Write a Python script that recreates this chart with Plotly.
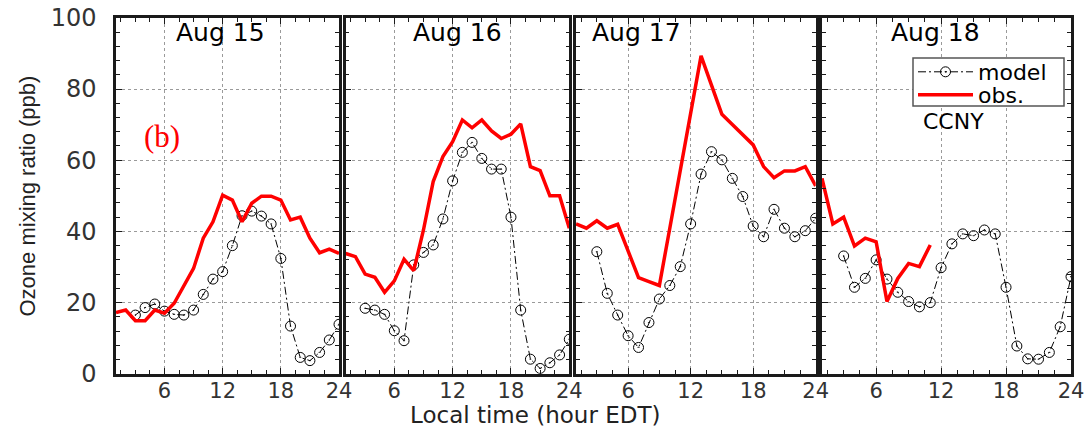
import plotly.graph_objects as go

hours = list(range(1, 25))
days = ["Aug 15", "Aug 16", "Aug 17", "Aug 18"]

obs_aug15 = [17.2, 17.9, 14.9, 14.9, 17.9, 17.0, 19.8, 24.5, 29.6, 38.1, 42.7, 50.2,
             48.8, 42.7, 47.9, 49.9, 49.9, 48.8, 43.2, 44.0, 38.1, 34.0, 35.0, 33.8]
model_aug15 = [None, None, 16.5, 18.6, 19.6, 17.6, 16.7, 16.5, 17.9, 22.3, 26.6, 28.7,
               36.0, 44.4, 45.7, 44.3, 42.1, 32.4, 13.4, 4.6, 3.7, 6.0, 9.5, 13.9]

obs_aug16 = [33.8, 32.9, 28.0, 27.1, 22.9, 26.1, 32.2, 29.0, 40.4, 54.0, 61.0, 65.2,
             71.3, 69.1, 71.3, 68.2, 66.1, 67.3, 70.2, 58.2, 57.1, 50.0, 50.0, 40.9]
model_aug16 = [None, None, 18.4, 17.9, 16.7, 12.1, 9.3, 30.6, 34.1, 36.2, 43.5, 54.2,
               62.2, 65.0, 60.5, 57.5, 57.5, 44.0, 17.9, 4.1, 1.5, 3.1, 5.3, 9.7]

obs_aug17 = [42.1, 40.9, 43.0, 40.9, 42.0, 34.3, 27.0, 25.9, 24.8, 40.9, 57.0, 73.2,
             89.3, 81.1, 72.9, 70.0, 67.1, 64.3, 58.2, 55.1, 57.0, 57.0, 58.2, 52.8]
model_aug17 = [None, None, 34.3, 22.6, 16.5, 10.7, 7.4, 14.4, 21.0, 24.8, 30.1, 42.1,
               56.1, 62.4, 60.1, 54.9, 49.8, 41.5, 38.5, 46.2, 40.9, 38.5, 40.2, 43.7]

obs_aug18 = [54.9, 42.1, 44.0, 35.9, 38.1, 37.1, 20.3, 26.8, 31.0, 30.1, 36.2,
             None, None, None, None, None, None, None, None, None, None, None, None, None]
model_aug18 = [None, None, 33.1, 24.3, 26.8, 32.0, 26.6, 22.9, 20.3, 18.8, 20.0, 29.8,
               36.5, 39.3, 38.8, 40.4, 39.3, 24.3, 7.8, 4.2, 4.1, 6.0, 13.2, 27.3]

obs_series = [obs_aug15, obs_aug16, obs_aug17, obs_aug18]
model_series = [model_aug15, model_aug16, model_aug17, model_aug18]

x_ticks = [6, 12, 18, 24]
y_ticks = [0, 20, 40, 60, 80, 100]

W, H = 1088, 429
panel_px = [(116, 339), (345.7, 569.3), (576, 815.7), (822, 1071)]
y_dom = [1 - 373.8 / H, 1 - 17.8 / H]

FONT = "DejaVu Sans"
fig = go.Figure()

for i in range(4):
    xa = "x" if i == 0 else f"x{i+1}"
    ya = "y" if i == 0 else f"y{i+1}"
    fig.add_trace(go.Scatter(
        x=hours, y=model_series[i], xaxis=xa, yaxis=ya, name="model",
        mode="lines+markers", showlegend=(i == 0), legend="legend",
        line=dict(color="black", width=1, dash="8px,3px,2px,3px"),
        marker=dict(symbol="circle-open-dot", size=10, color="black",
                    line=dict(width=1, color="black")),
    ))
    fig.add_trace(go.Scatter(
        x=hours, y=obs_series[i], xaxis=xa, yaxis=ya, name="obs.",
        mode="lines", showlegend=(i == 0), legend="legend2",
        line=dict(color="#ff0000", width=3.5),
    ))

axis_common = dict(
    showline=True, linewidth=2.5, linecolor="#1a1a1a", mirror="allticks",
    ticks="inside", ticklen=6, tickwidth=1, tickcolor="#1a1a1a",
    showgrid=True, gridcolor="#9a9a9a", griddash="dot", gridwidth=1,
    zeroline=False, automargin=False,
    tickfont=dict(family=FONT, size=21, color="#333333"),
)

legend_common = dict(
    xanchor="left", yanchor="middle", bgcolor="rgba(0,0,0,0)", borderwidth=0,
    font=dict(family=FONT, size=22, color="black"), itemwidth=55,
)

layout = dict(
    template="none",
    width=W, height=H, margin=dict(l=0, r=0, t=0, b=0, pad=0), autosize=False,
    paper_bgcolor="white", plot_bgcolor="white",
    font=dict(family=FONT, color="black"),
    showlegend=True, hovermode="closest",
    legend=dict(legend_common, x=913 / W, y=1 - 72 / H),
    legend2=dict(legend_common, x=913 / W, y=1 - 95 / H),
    shapes=[dict(type="rect", xref="paper", yref="paper", layer="above",
                 x0=913 / W, x1=1064 / W, y0=1 - 106 / H, y1=1 - 58 / H,
                 fillcolor="white", line=dict(color="#555555", width=1.5))],
)

for i in range(4):
    xk = "xaxis" if i == 0 else f"xaxis{i+1}"
    yk = "yaxis" if i == 0 else f"yaxis{i+1}"
    x0, x1 = panel_px[i]
    layout[xk] = dict(
        axis_common, domain=[x0 / W, x1 / W], range=[1, 24],
        tickmode="array", tickvals=x_ticks, ticktext=[str(v) for v in x_ticks],
        ticklabelstandoff=-4,
        anchor="y" if i == 0 else f"y{i+1}",
        minor=dict(ticks="inside", dtick=1.5, tick0=0, ticklen=4,
                   tickcolor="#1a1a1a", showgrid=False),
    )
    layout[yk] = dict(
        axis_common, domain=y_dom, range=[0, 100],
        tickmode="array", tickvals=y_ticks, ticktext=[str(v) for v in y_ticks],
        showticklabels=(i == 0), ticklabelstandoff=12,
        tickfont=dict(family=FONT, size=24, color="#333333"),
        anchor="x" if i == 0 else f"x{i+1}",
        minor=dict(ticks="inside", dtick=4, tick0=0, ticklen=4,
                   tickcolor="#1a1a1a", showgrid=False),
    )

fig.update_layout(**layout)

title_pos = [220, 457, 636, 935]
for i, d in enumerate(days):
    fig.add_annotation(x=title_pos[i] / W, y=1 - 33 / H, xref="paper", yref="paper",
                       text=d, showarrow=False, xanchor="center", yanchor="middle",
                       font=dict(family=FONT, size=25, color="black"))

fig.add_annotation(x=162 / W, y=1 - 137 / H, xref="paper", yref="paper", text="(b)",
                   showarrow=False, xanchor="center", yanchor="middle",
                   font=dict(family="Liberation Serif", size=31, color="#ff0000"))
fig.add_annotation(x=953 / W, y=1 - 121 / H, xref="paper", yref="paper", text="CCNY",
                   showarrow=False, xanchor="center", yanchor="middle",
                   font=dict(family=FONT, size=22, color="black"))
fig.add_annotation(x=535 / W, y=1 - 415 / H, xref="paper", yref="paper",
                   text="Local time (hour EDT)", showarrow=False,
                   xanchor="center", yanchor="middle",
                   font=dict(family=FONT, size=23, color="#222222"))
fig.add_annotation(x=27 / W, y=1 - 196.5 / H, xref="paper", yref="paper",
                   text="Ozone mixing ratio (ppb)", showarrow=False, textangle=-90,
                   xanchor="center", yanchor="middle",
                   font=dict(family="Liberation Sans Narrow, Liberation Sans", size=22,
                             color="#222222"))

fig.write_html("out.html", config={"displayModeBar": False},
               post_script="document.body.style.margin='0px';"
                           "document.body.style.padding='0px';")
